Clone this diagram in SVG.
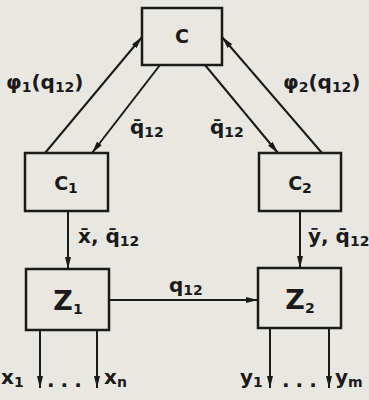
<svg xmlns="http://www.w3.org/2000/svg" width="369" height="400" viewBox="0 0 369 400">
<style>
.box{fill:none;stroke:#1a1a1a;stroke-width:2.5}
.ln{fill:none;stroke:#1a1a1a;stroke-width:2;marker-end:url(#ah)}
text{font-family:"DejaVu Sans","Liberation Sans",sans-serif;font-weight:bold;fill:#1a1a1a}
.n{font-size:19px;text-anchor:middle}
.z{font-size:27px;text-anchor:middle}
.l{font-size:20px}
.s{font-size:14px}
.d{font-size:20px;letter-spacing:6px}
</style>
<defs>
<marker id="ah" viewBox="0 0 12 6" refX="12" refY="3" markerWidth="12" markerHeight="6" markerUnits="userSpaceOnUse" orient="auto">
<path d="M0,0 L12,3 L0,6 Z" fill="#1a1a1a"/>
</marker>
</defs>
<rect width="369" height="400" fill="#e9e7e1"/>
<g id="connectors">
<line class="ln" x1="45" y1="153" x2="142" y2="37"/>
<line class="ln" x1="160" y1="65" x2="92" y2="153"/>
<line class="ln" x1="205" y1="65" x2="278" y2="153"/>
<line class="ln" x1="322" y1="153" x2="222" y2="37"/>
<line class="ln" x1="68" y1="211" x2="68" y2="269"/>
<line class="ln" x1="300" y1="211" x2="300" y2="268"/>
<line class="ln" x1="109" y1="300" x2="258" y2="300"/>
<line class="ln" x1="40" y1="330" x2="40" y2="388"/>
<line class="ln" x1="97" y1="330" x2="97" y2="388"/>
<line class="ln" x1="270" y1="328" x2="270" y2="388"/>
<line class="ln" x1="329" y1="328" x2="329" y2="388"/>
<text class="l" x="6" y="89">φ<tspan class="s" dy="3">1</tspan><tspan dy="-3">(q</tspan><tspan class="s" dy="3">12</tspan><tspan dy="-3">)</tspan></text>
<text class="l" x="283" y="89">φ<tspan class="s" dy="3">2</tspan><tspan dy="-3">(q</tspan><tspan class="s" dy="3">12</tspan><tspan dy="-3">)</tspan></text>
<text class="l" x="130" y="134">q̄<tspan class="s" dy="3">12</tspan></text>
<text class="l" x="210" y="134">q̄<tspan class="s" dy="3">12</tspan></text>
<text class="l" x="78" y="243">x̄, q̄<tspan class="s" dy="3">12</tspan></text>
<text class="l" x="308" y="243">ȳ, q̄<tspan class="s" dy="3">12</tspan></text>
<text class="l" x="169" y="292">q<tspan class="s" dy="3">12</tspan></text>
<text class="l" x="1" y="384">x<tspan class="s" dy="3">1</tspan></text>
<text class="d" x="47" y="387">...</text>
<text class="l" x="104" y="384">x<tspan class="s" dy="3">n</tspan></text>
<text class="l" x="240" y="384">y<tspan class="s" dy="3">1</tspan></text>
<text class="d" x="282" y="387">...</text>
<text class="l" x="335" y="384">y<tspan class="s" dy="3">m</tspan></text>
</g>
<g id="C"><rect class="box" x="142" y="8" width="80" height="57"/><text class="n" x="182" y="43">C</text></g>
<g id="C1"><rect class="box" x="25" y="153" width="83" height="58"/><text class="n" x="66" y="190">C<tspan class="s" dy="3">1</tspan></text></g>
<g id="C2"><rect class="box" x="259" y="153" width="82" height="58"/><text class="n" x="300" y="190">C<tspan class="s" dy="3">2</tspan></text></g>
<g id="Z1"><rect class="box" x="26" y="269" width="83" height="61"/><text class="z" x="68" y="310">Z<tspan class="s" dy="4">1</tspan></text></g>
<g id="Z2"><rect class="box" x="258" y="268" width="83" height="60"/><text class="z" x="300" y="309">Z<tspan class="s" dy="4">2</tspan></text></g>
</svg>
